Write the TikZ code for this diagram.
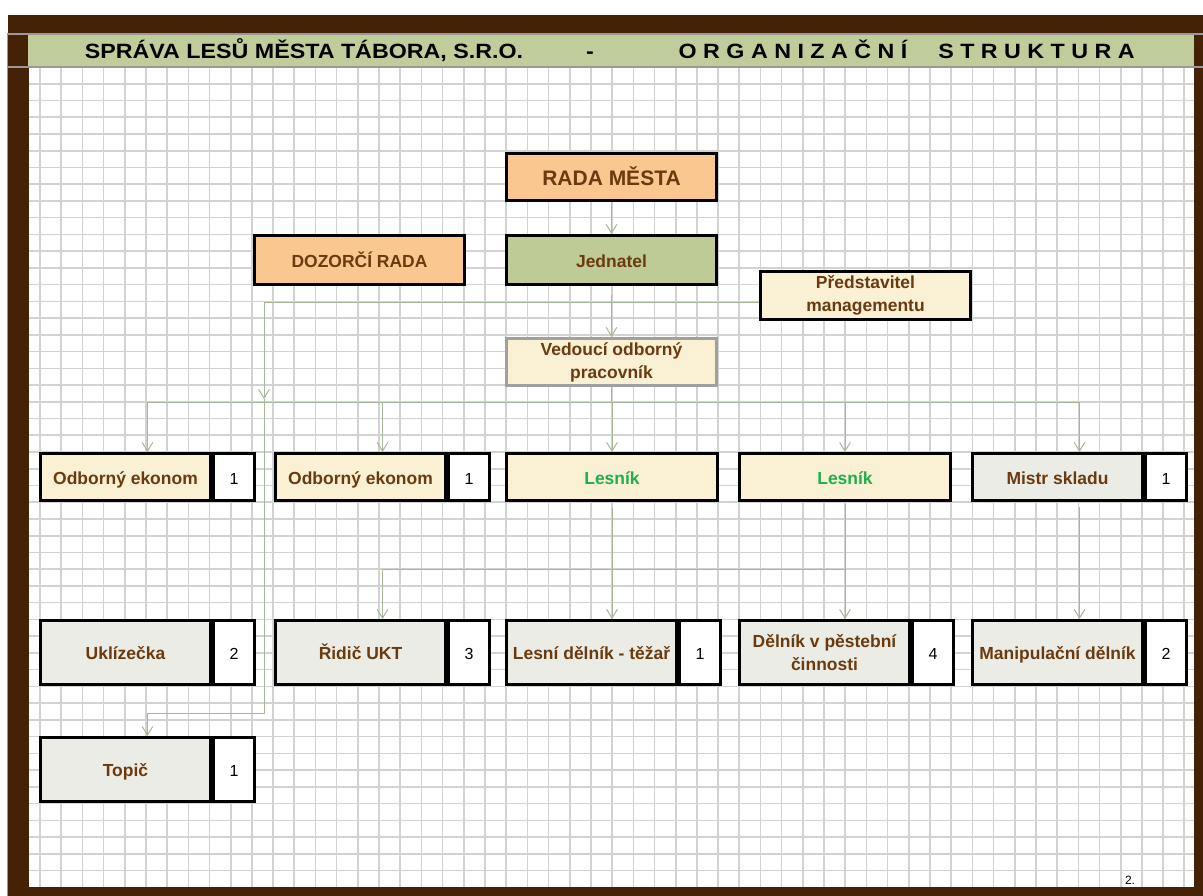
\documentclass[tikz,border=0pt]{standalone}
\usepackage{fontspec}
\usepackage{graphicx}
\setmainfont{Liberation Sans}
\usetikzlibrary{arrows.meta,calc}
\definecolor{brownfr}{HTML}{452205}
\definecolor{hdrgreen}{HTML}{C0CC99}
\definecolor{gridc}{HTML}{D2D2D2}
\definecolor{peach}{HTML}{F9C78F}
\definecolor{olive}{HTML}{BECB97}
\definecolor{cream}{HTML}{FAF0D4}
\definecolor{lgray}{HTML}{EBECE6}
\definecolor{tbrown}{HTML}{6B3A0E}
\definecolor{lgreen}{HTML}{1EAF50}
\definecolor{conncol}{HTML}{A8B699}
\definecolor{hline}{HTML}{999999}
\definecolor{vedborder}{HTML}{A0A0A0}
\tikzset{
  bx/.style={draw=black, line width=2.25pt, inner sep=0pt, align=center,
    font=\fontsize{13.1}{17.25}\selectfont\bfseries, text=tbrown},
  one/.style={text height=11pt, text depth=0pt},
  lbl/.style={bx, minimum width=127.5pt},
  full/.style={bx, minimum width=158.25pt},
  top/.style={bx, minimum width=157.5pt},
  numbx/.style={draw=black, line width=2.25pt, fill=white, inner sep=0pt,
    font=\fontsize{12}{14}\selectfont, text=black, minimum width=30.75pt, anchor=west,
    text height=11pt, text depth=0pt},
  rowa/.style={minimum height=35.25pt},
  rowb/.style={minimum height=48pt},
  conn/.style={draw=conncol, line width=0.75pt},
  arr/.style={conn, -{Straight Barb[length=6.5pt,width=8pt]}},
  hdr/.style={inner sep=0pt, anchor=base, font=\fontsize{15.5}{17}\selectfont\bfseries, text=black},
}
\begin{document}
\begin{tikzpicture}[x=0.75pt,y=-0.75pt]
\useasboundingbox (0,0) rectangle (1203,896);
\fill[white] (0,0) rectangle (1203,896);
% grid
\foreach \k in {0,...,54} \draw[gridc, line width=1.2pt] ({40+21.19*\k},67) -- ({40+21.19*\k},887);
\foreach \k in {1,...,48} \draw[gridc, line width=1.2pt] (29,{67+16.74*\k}) -- (1194,{67+16.74*\k});
% frame
\fill[brownfr] (8,15) rectangle (1203,33);
\fill[brownfr] (8,15) rectangle (29,896);
\fill[brownfr] (1194,15) rectangle (1203,896);
\fill[brownfr] (8,887) rectangle (1203,896);
\fill[hdrgreen] (28,34) rectangle (1194,67);
\draw[hline, line width=1.5pt] (7,34) -- (1203,34);
\draw[hline, line width=1.5pt] (7,67) -- (1203,67);
\draw[hline, line width=0.75pt] (7.5,33) -- (7.5,896);
% header
\node[hdr] (h1) at (304,58.5) {\scalebox{1.125}[1]{SPRÁVA LESŮ MĚSTA TÁBORA, S.R.O.}};
\node[hdr] (h2) at (590,58.5) {\scalebox{1.125}[1]{-}};
\node[hdr] (h3) at (793,58.5) {\scalebox{1.125}[1]{O R G A N I Z A Č N Í}};
\node[hdr] (h4) at (1036.5,58.5) {\scalebox{1.125}[1]{S T R U K T U R A}};
% top boxes
\node[top, fill=peach, minimum height=35.25pt, font=\fontsize{15.75}{18}\selectfont\bfseries, text height=12pt, text depth=0pt] (rada) at (611.5,177) {RADA MĚSTA};
\node[top, one, fill=olive, minimum height=36.75pt] (jed) at (611.5,260) {Jednatel};
\node[top, one, fill=peach, minimum height=36.75pt] (dozor) at (359.5,260) {DOZORČÍ RADA};
\node[top, fill=cream, minimum height=36pt] (pred) at (865.5,295) {Představitel\\managementu};
\node[top, fill=cream, draw=vedborder, minimum height=35.25pt] (ved) at (611.5,362) {Vedoucí odborný\\pracovník};
% row 1
\node[lbl, one, rowa, fill=cream] (ek1) at (125.5,477) {Odborný ekonom};
\node[numbx, rowa] (ek1n) at (ek1.east) {1};
\node[lbl, one, rowa, fill=cream] (ek2) at (360.5,477) {Odborný ekonom};
\node[numbx, rowa] (ek2n) at (ek2.east) {1};
\node[full, one, rowa, fill=cream, text=lgreen] (les1) at (612,477) {Lesník};
\node[full, one, rowa, fill=cream, text=lgreen] (les2) at (845,477) {Lesník};
\node[lbl, one, rowa, fill=lgray] (mistr) at (1057.5,477) {Mistr skladu};
\node[numbx, rowa] (mistrn) at (mistr.east) {1};
% row 2
\node[lbl, one, rowb, fill=lgray] (ukl) at (125.5,652.5) {Uklízečka};
\node[numbx, rowb] (ukln) at (ukl.east) {2};
\node[lbl, one, rowb, fill=lgray] (ridic) at (360.5,652.5) {Řidič UKT};
\node[numbx, rowb] (ridicn) at (ridic.east) {3};
\node[lbl, one, rowb, fill=lgray] (ldel) at (591.5,652.5) {Lesní dělník - těžař};
\node[numbx, rowb] (ldeln) at (ldel.east) {1};
\node[lbl, rowb, fill=lgray] (dpes) at (824.5,652.5) {Dělník v pěstební\\činnosti};
\node[numbx, rowb] (dpesn) at (dpes.east) {4};
\node[lbl, one, rowb, fill=lgray] (manip) at (1057.5,652.5) {Manipulační dělník};
\node[numbx, rowb] (manipn) at (manip.east) {2};
% row 3
\node[lbl, one, rowb, fill=lgray] (topic) at (125.5,769.5) {Topič};
\node[numbx, rowb] (topicn) at (topic.east) {1};
% page number
\node[inner sep=0pt, anchor=base, font=\fontsize{9}{10}\selectfont] (pg) at (1130,884) {2.};
% helper coordinates
\coordinate (ek1top) at ($(ek1.north west)!0.5!(ek1n.north east)$);
\coordinate (ek2top) at ($(ek2.north west)!0.5!(ek2n.north east)$);
\coordinate (mistrtop) at ($(mistr.north west)!0.5!(mistrn.north east)$);
\coordinate (mistrbot) at ($(mistr.south west)!0.5!(mistrn.south east)$);
\coordinate (ridictop) at ($(ridic.north west)!0.5!(ridicn.north east)$);
\coordinate (ldeltop) at ($(ldel.north west)!0.5!(ldeln.north east)$);
\coordinate (dpestop) at ($(dpes.north west)!0.5!(dpesn.north east)$);
\coordinate (maniptop) at ($(manip.north west)!0.5!(manipn.north east)$);
\coordinate (topictop) at ($(topic.north west)!0.5!(topicn.north east)$);
\coordinate (busy) at (0,402);
\coordinate (hy) at (0,569);
\coordinate (tkn) at (264,399);
\coordinate (tbend) at (264,713);
\coordinate (predy) at (0,302);
% connectors
\draw[arr] (rada.south) -- (jed.north);
\draw[arr] ([yshift=-6.75pt]jed.south) -- (ved.north);
\draw[conn] (ved.south) -- (ved.south |- busy);
\draw[conn] (ek1top |- busy) -- (mistrtop |- busy);
\draw[arr] (ek1top |- busy) -- (ek1top);
\draw[arr] (ek2top |- busy) -- (ek2top);
\draw[arr] (les1.north |- busy) -- (les1.north);
\draw[arr] (les2.north |- busy) -- (les2.north);
\draw[arr] (mistrtop |- busy) -- (mistrtop);
\draw[arr] (pred.west |- predy) -| (tkn);
\draw[arr] (tkn) -- (tbend) -| (topictop);
\draw[arr] ([yshift=-4.5pt]les1.south) -- (les1.south |- ldeltop);
\draw[arr] ([yshift=-1.5pt]les2.south) -- (les2.south |- dpestop);
\draw[arr] ([yshift=-1.5pt]les2.south) -- (les2.south |- hy) -| (ridictop);
\draw[arr] ([yshift=-3.75pt]mistrbot) -- (mistrbot |- maniptop);
\end{tikzpicture}
\end{document}
